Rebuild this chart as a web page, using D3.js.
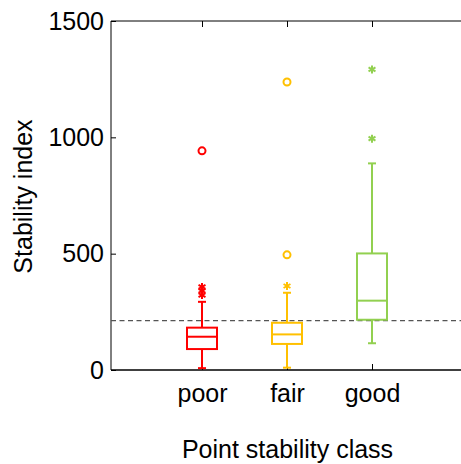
<!DOCTYPE html>
<html>
<head>
<meta charset="utf-8">
<script src="https://cdn.jsdelivr.net/npm/d3@7"></script>
<style>
  html, body { margin: 0; padding: 0; background: #fff; }
  svg { display: block; font-family: "Liberation Sans", Arial, sans-serif; }
</style>
</head>
<body>
<svg id="chart" width="461" height="464"></svg>
<script>
// Point stability classes and their box-plot summaries
const categories = ["poor", "fair", "good"];
const colors = ["#ff0000", "#ffc000", "#92d050"];
const whiskerLow = [8, 10, 115];
const q1 = [90, 112, 216];
const median = [143, 153, 298];
const q3 = [182, 203, 501];
const whiskerHigh = [293, 332, 888];
// outliers drawn as asterisks (moderate) and circles (extreme)
const starOutliers = [[322, 340, 357], [361], [994, 1292]];
const circleOutliers = [[942], [495, 1238], []];
const threshold = 212;
const yTicks = [0, 500, 1000, 1500];

(function () {
  const svg = d3.select("#chart");
  const m = { left: 111, top: 21, bottom: 370, right: 470 };
  const fs = 25;

  const x = d3.scaleLinear().domain([0, 1]).range([202, 287]);
  const y = d3.scaleLinear().domain([0, 1500]).range([m.bottom, m.top]);

  // frame: left, bottom, top
  svg.append("line").attr("x1", m.left).attr("x2", m.right).attr("y1", m.bottom).attr("y2", m.bottom)
    .attr("stroke", "#000").attr("stroke-width", 1.3);
  svg.append("line").attr("x1", m.left).attr("x2", m.right).attr("y1", m.top).attr("y2", m.top)
    .attr("stroke", "#000").attr("stroke-width", 1);
  svg.append("line").attr("x1", m.left).attr("x2", m.left).attr("y1", m.top).attr("y2", m.bottom)
    .attr("stroke", "#000").attr("stroke-width", 1);

  // y axis ticks (inward) and labels
  const yAxis = d3.axisLeft(y).tickValues(yTicks).tickSize(-5).tickPadding(7)
    .tickFormat(d3.format("d"));
  const gy = svg.append("g").attr("transform", `translate(${m.left},0)`).call(yAxis);
  gy.select(".domain").remove();
  gy.selectAll(".tick line").attr("stroke", "#000");
  gy.selectAll(".tick text").attr("font-size", fs).attr("fill", "#000")
    .attr("font-family", "Liberation Sans, Arial, sans-serif");

  // x ticks on bottom and top (inward)
  const idx = categories.map((c, i) => i);
  const xBottom = d3.axisBottom(x).tickValues(idx).tickSize(-6).tickPadding(14)
    .tickFormat(i => categories[i]);
  const gx = svg.append("g").attr("transform", `translate(0,${m.bottom})`).call(xBottom);
  gx.select(".domain").remove();
  gx.selectAll(".tick line").attr("stroke", "#000");
  gx.selectAll(".tick text").attr("font-size", fs).attr("fill", "#000")
    .attr("font-family", "Liberation Sans, Arial, sans-serif");

  const xTop = d3.axisTop(x).tickValues(idx).tickSize(-6).tickFormat("");
  const gxt = svg.append("g").attr("transform", `translate(0,${m.top})`).call(xTop);
  gxt.select(".domain").remove();
  gxt.selectAll(".tick line").attr("stroke", "#000");

  // threshold line
  svg.append("line").attr("x1", m.left).attr("x2", m.right)
    .attr("y1", y(threshold)).attr("y2", y(threshold))
    .attr("stroke", "#555").attr("stroke-width", 1.2).attr("stroke-dasharray", "5,3.5");

  // boxes
  const boxW = 30, capW = 8;
  const g = svg.append("g");
  idx.forEach(i => {
    const cx = x(i), col = colors[i];
    const grp = g.append("g").attr("stroke", col).attr("fill", "none").attr("stroke-width", 2);
    grp.append("line").attr("x1", cx).attr("x2", cx).attr("y1", y(q3[i])).attr("y2", y(whiskerHigh[i]));
    grp.append("line").attr("x1", cx).attr("x2", cx).attr("y1", y(q1[i])).attr("y2", y(whiskerLow[i]));
    grp.append("line").attr("x1", cx - capW / 2).attr("x2", cx + capW / 2)
      .attr("y1", y(whiskerHigh[i])).attr("y2", y(whiskerHigh[i]));
    grp.append("line").attr("x1", cx - capW / 2).attr("x2", cx + capW / 2)
      .attr("y1", y(whiskerLow[i])).attr("y2", y(whiskerLow[i]));
    grp.append("rect").attr("x", cx - boxW / 2).attr("width", boxW)
      .attr("y", y(q3[i])).attr("height", y(q1[i]) - y(q3[i])).attr("fill", "#fff");
    grp.append("line").attr("x1", cx - boxW / 2).attr("x2", cx + boxW / 2)
      .attr("y1", y(median[i])).attr("y2", y(median[i]));

    starOutliers[i].forEach(v => {
      const s = grp.append("g").attr("transform", `translate(${cx},${y(v)})`);
      const r = 4;
      [0, 60, 120].forEach(a => {
        const rad = a * Math.PI / 180;
        s.append("line").attr("x1", -r * Math.sin(rad)).attr("y1", -r * Math.cos(rad))
          .attr("x2", r * Math.sin(rad)).attr("y2", r * Math.cos(rad));
      });
    });
    circleOutliers[i].forEach(v => {
      grp.append("circle").attr("cx", cx).attr("cy", y(v)).attr("r", 3.5);
    });
  });

  // axis titles
  svg.append("text").attr("transform", "translate(32,196.5) rotate(-90)")
    .attr("text-anchor", "middle").attr("font-size", fs).text("Stability index");
  svg.append("text").attr("x", 287.5).attr("y", 458)
    .attr("text-anchor", "middle").attr("font-size", fs).text("Point stability class");
})();
</script>
</body>
</html>
